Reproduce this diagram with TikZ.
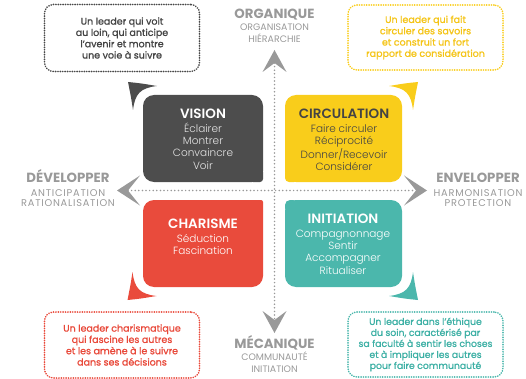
\documentclass[tikz,border=0pt]{standalone}
\usepackage{fontspec}
\setmainfont{Poppins}
\newfontfamily\poplight{Poppins Light}
\newfontfamily\popmed{Poppins}[FakeBold=1.2]
\usetikzlibrary{arrows.meta}
\definecolor{cvis}{HTML}{4D4D4D}
\definecolor{cvisitem}{HTML}{E4E4E4}
\definecolor{ccir}{HTML}{F9CD1B}
\definecolor{ccha}{HTML}{E94B3C}
\definecolor{cini}{HTML}{4BB7AC}
\definecolor{caxis}{HTML}{999999}
\definecolor{cdark}{HTML}{444444}
\definecolor{cyeltext}{HTML}{F4C417}
\definecolor{credtext}{HTML}{E8493A}
\definecolor{cteatext}{HTML}{3EB0A5}
\definecolor{cvisbord}{HTML}{484848}
\tikzset{
  qbox/.style={rounded corners=11pt, inner sep=0pt, minimum width=#1},
  qtxt/.style={anchor=north, align=center, inner sep=0pt, font=\poplight\fontsize{10.5}{12.3}\selectfont},
  callout/.style={draw=#1, line width=1.6pt, dash pattern=on 0.3pt off 2.1pt, line cap=round,
    rounded corners=9pt, minimum width=155pt, inner sep=0pt, align=center,
    font=\popmed\fontsize{9.5}{11.3}\selectfont},
  axlab/.style={align=center, inner sep=0pt, text=caxis, font=\fontsize{9.4}{12}\selectfont},
  axlabh/.style={align=center, inner sep=0pt, text=caxis, font=\addfontfeatures{LetterSpace=8}\fontsize{9.8}{10}\selectfont},
  axisline/.style={caxis, line width=1.7pt, dash pattern=on 0pt off 3.6pt, line cap=round},
  callarrow/.pic={\fill (0,0) .. controls (12,1.2) .. (29,4) .. controls (12,6) and (7,12) .. (5,28) .. controls (3,15) .. (0,0) -- cycle;}
}
\newcommand\qtitle{\fontsize{13.5}{12.3}\selectfont\bfseries}
\newcommand\axtitle{\fontsize{13.3}{12}\selectfont\bfseries}
\begin{document}
\begin{tikzpicture}[x=1pt, y=-1pt]
\useasboundingbox (0,0) rectangle (526,379);

% axes
\coordinate (T) at (274.5,50);
\coordinate (B) at (274.5,333);
\coordinate (L) at (117,190.5);
\coordinate (R) at (427,190.5);
\draw[axisline, {Stealth[length=22pt, width=24pt, inset=9pt, line width=0pt]}-{Stealth[length=22pt, width=24pt, inset=9pt, line width=0pt]}] (T) -- (B);
\draw[axisline, {Stealth[length=23pt, width=30pt, inset=12pt, line width=0pt]}-{Stealth[length=23pt, width=30pt, inset=12pt, line width=0pt]}] (L) -- (R);

% quadrant boxes
\node[qbox=120pt, minimum height=87pt, fill=cvis] (vis) at (203,138.5) {};
\fill[cvis, rounded corners=3pt] (250,169) rectangle (263,182);
\node[qbox=117pt, minimum height=87pt, fill=ccir] (cir) at (343.5,138.5) {};
\fill[ccir, rounded corners=4pt] (285,169) rectangle (298,182);
\node[qbox=120pt, minimum height=87pt, fill=ccha] (cha) at (203,243.5) {};
\fill[ccha, rounded corners=2pt] (250,200) rectangle (263,213);
\node[qbox=117pt, minimum height=87pt, fill=cini] (ini) at (343.5,243.5) {};
\fill[cini, rounded corners=5pt] (285,200) rectangle (298,213);

\node[qtxt, text=cvisitem] (visT) at (203,108.5) {{\qtitle\color{white}VISION}\\[1.7pt]Éclairer\\Montrer\\Convaincre\\Voir};
\node[qtxt, text=cdark] (cirT) at (344,108.5) {{\qtitle CIRCULATION}\\[1.7pt]Faire circuler\\Réciprocité\\Donner/Recevoir\\Considérer};
\node[qtxt, text=white] (chaT) at (203,218.5) {{\qtitle CHARISME}\\[1.7pt]Séduction\\Fascination};
\node[qtxt, text=white] (iniT) at (343,213.5) {{\qtitle INITIATION}\\[1.7pt]Compagnonnage\\Sentir\\Accompagner\\Ritualiser};

% callouts
\node[callout=cvisbord, text=cdark, minimum height=67pt] (cv) at (122,38) {Un leader qui voit\\au loin, qui anticipe\\l’avenir et montre\\une voie à suivre};
\node[callout=ccir, text=cyeltext, minimum height=65pt] (cc) at (425.5,37.5) {Un leader qui fait\\circuler des savoirs\\et construit un fort\\rapport de considération};
\node[callout=ccha, text=credtext, minimum height=66pt] (ch) at (122,345) {Un leader charismatique\\qui fascine les autres\\et les amène à le suivre\\dans ses décisions};
\node[callout=cini, text=cteatext, minimum height=65pt, font=\popmed\fontsize{9.3}{11}\selectfont] (ci) at (425.5,344.5) {Un leader dans l’éthique\\du soin, caractérisé par\\sa faculté à sentir les choses\\et à impliquer les autres\\pour faire communauté};

% pointer arrows
\pic[color=cvis] (pv) at (128,82) {callarrow};
\pic[color=ccir, xscale=-1] (pc) at (418,82) {callarrow};
\pic[color=ccha, yscale=-1] (ph) at (127.5,300) {callarrow};
\pic[color=cini, xscale=-1, yscale=-1] (pi) at (418,300) {callarrow};

% axis labels
\node[axlab, anchor=north] (org) at (274.5,9.2) {{\axtitle ORGANIQUE}\\ORGANISATION\\HIÉRARCHIE};
\node[axlab, anchor=south] (mec) at (274.5,372.5) {{\axtitle MÉCANIQUE}\\COMMUNAUTÉ\\INITIATION};
\node[axlabh, anchor=south] (dev) at (68,206.5) {{\axtitle\addfontfeatures{LetterSpace=0} DÉVELOPPER}\\[3.7pt]ANTICIPATION\\RATIONALISATION};
\node[axlabh, anchor=south] (env) at (478,206.5) {{\axtitle\addfontfeatures{LetterSpace=0} ENVELOPPER}\\[3.7pt]HARMONISATION\\PROTECTION};
\end{tikzpicture}
\end{document}
